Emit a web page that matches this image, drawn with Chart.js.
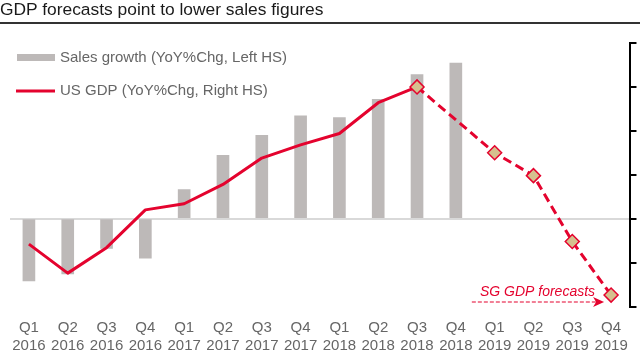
<!DOCTYPE html>
<html>
<head>
<meta charset="utf-8">
<script src="https://cdn.jsdelivr.net/npm/chart.js@4.4.1/dist/chart.umd.min.js"></script>
<style>
    html, body { margin: 0; padding: 0; background: #fff; }
    .wrap { position: relative; width: 640px; height: 360px; overflow: hidden; }
    .title {
        position: absolute; left: 0; top: 0; width: 640px; height: 22px;
        font: 17.4px "Liberation Sans", Arial, sans-serif; color: #1a1a1a;
        line-height: 18px; border-bottom: 2px solid #333; box-sizing: content-box;
    }
    canvas { position: absolute; left: 0; top: 0; }
</style>
</head>
<body>
<div class="wrap">
    <canvas id="chart" width="640" height="360"></canvas>
    <div class="title">GDP forecasts point to lower sales figures</div>
</div>
<script>
// --- Data ---
const quarters = ['Q1', 'Q2', 'Q3', 'Q4', 'Q1', 'Q2', 'Q3', 'Q4', 'Q1', 'Q2', 'Q3', 'Q4', 'Q1', 'Q2', 'Q3', 'Q4'];
const years = ['2016', '2016', '2016', '2016', '2017', '2017', '2017', '2017', '2018', '2018', '2018', '2018', '2019', '2019', '2019', '2019'];
const salesGrowth = [-7.1, -6.3, -3.4, -4.5, 3.3, 7.2, 9.5, 11.7, 11.5, 13.6, 16.4, 17.7, null, null, null, null];
const usGdp = [1.21, 0.88, 1.17, 1.60, 1.67, 1.89, 2.19, 2.34, 2.47, 2.82, 3.0, null, null, null, null, null];
const gdpForecast = [null, null, null, null, null, null, null, null, null, null, 3.0, null, 2.25, 1.99, 1.24, 0.63];
const legendLabels = ['Sales growth (YoY%Chg, Left HS)', 'US GDP (YoY%Chg, Right HS)'];
const noteText = 'SG GDP forecasts';

const RED = '#e4032e';
const BAR = '#bdb9b8';
const FONT = '"Liberation Sans", Arial, sans-serif';

// --- Legend + annotation drawn on the canvas ---
const overlay = {
    id: 'overlay',
    afterDraw(chart) {
        const c = chart.ctx;
        c.save();
        c.font = '15px ' + FONT;
        c.textBaseline = 'middle';

        c.fillStyle = BAR;
        c.fillRect(17, 54, 38, 7);
        c.fillStyle = '#666';
        c.fillText(legendLabels[0], 60, 58);

        c.strokeStyle = RED;
        c.lineWidth = 3;
        c.beginPath();
        c.moveTo(16, 91);
        c.lineTo(55, 91);
        c.stroke();
        c.fillText(legendLabels[1], 60, 91);

        // forecast note with dashed arrow
        const x = chart.scales.x;
        const end = x.getPixelForValue(15) - 7;
        const start = x.getPixelForValue(11) + 16;
        c.fillStyle = RED;
        c.font = 'italic 14px ' + FONT;
        c.textAlign = 'right';
        c.fillText(noteText, end - 9, 292);

        c.lineWidth = 1.2;
        c.setLineDash([4, 2]);
        c.beginPath();
        c.moveTo(start, 302);
        c.lineTo(end - 8, 302);
        c.stroke();
        c.setLineDash([]);
        c.beginPath();
        c.moveTo(end, 302);
        c.lineTo(end - 11, 297);
        c.lineTo(end - 8, 302);
        c.lineTo(end - 11, 307);
        c.closePath();
        c.fill();
        c.restore();
    }
};

// --- Chart ---
const ctx = document.getElementById('chart').getContext('2d');
new Chart(ctx, {
    type: 'bar',
    data: {
        labels: quarters.map((q, i) => [q, years[i]]),
        datasets: [
            {
                type: 'line',
                label: 'forecast',
                data: gdpForecast,
                yAxisID: 'y1',
                borderColor: RED,
                borderWidth: 3,
                borderDash: [9, 5],
                spanGaps: true,
                pointStyle: 'rectRot',
                pointRadius: 7,
                pointBackgroundColor: '#d6c08e',
                pointBorderColor: RED,
                pointBorderWidth: 1.5,
                tension: 0,
                order: 1
            },
            {
                type: 'line',
                label: legendLabels[1],
                data: usGdp,
                yAxisID: 'y1',
                borderColor: RED,
                borderWidth: 3,
                pointRadius: 0,
                tension: 0,
                borderJoinStyle: 'round',
                order: 2
            },
            {
                label: legendLabels[0],
                data: salesGrowth,
                yAxisID: 'y',
                backgroundColor: BAR,
                barThickness: 12,
                order: 3
            }
        ]
    },
    options: {
        responsive: false,
        animation: false,
        layout: { padding: { left: -2, top: 43, bottom: -6.5, right: 0 } },
        plugins: {
            legend: { display: false },
            tooltip: { enabled: false }
        },
        scales: {
            x: {
                offset: true,
                grid: { display: false, drawTicks: false },
                border: { display: false },
                ticks: {
                    color: '#666',
                    font: { family: FONT, size: 15, lineHeight: 1.2 },
                    padding: 12,
                    maxRotation: 0,
                    autoSkip: false
                }
            },
            y: {
                position: 'left',
                min: -10,
                max: 20,
                ticks: { display: false, stepSize: 5 },
                border: { display: false },
                grid: {
                    drawTicks: false,
                    lineWidth: 2,
                    color: (c) => (c.tick && c.tick.value === 0 ? '#d9d9d9' : 'rgba(0,0,0,0)')
                }
            },
            y1: {
                position: 'right',
                min: 0.5,
                max: 3.5,
                ticks: { display: false, stepSize: 0.5 },
                border: { display: true, color: '#000', width: 2 },
                grid: { drawOnChartArea: false, color: '#000', lineWidth: 2, tickLength: 6 }
            }
        }
    },
    plugins: [overlay]
});
</script>
</body>
</html>
